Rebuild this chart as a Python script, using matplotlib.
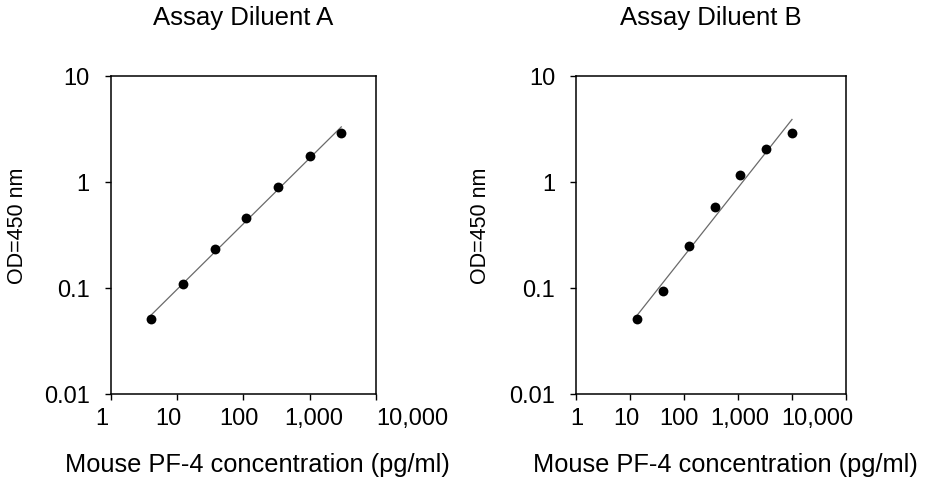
import matplotlib
matplotlib.use("Agg")
import matplotlib.pyplot as plt
import matplotlib.transforms as mtransforms
import numpy as np

plt.rcParams["font.family"] = ["Liberation Sans", "DejaVu Sans"]

# Standard curves, 3-fold dilution series
conc_a = [4.1, 12.3, 37, 111, 333, 1000, 3000]
od_a = [0.051, 0.109, 0.233, 0.46, 0.89, 1.77, 2.92]

conc_b = [13.7, 41, 123, 370, 1111, 3333, 10000]
od_b = [0.051, 0.094, 0.249, 0.58, 1.16, 2.03, 2.92]

titles = ["Assay Diluent A", "Assay Diluent B"]
x_label = "Mouse PF-4 concentration (pg/ml)"
y_label = "OD=450 nm"

y_ticks = [0.01, 0.1, 1, 10]
y_tick_labels = ["0.01", "0.1", "1", "10"]
x_ticks_a = [1, 10, 100, 1000, 10000]
x_ticks_b = [1, 10, 100, 1000, 10000, 100000]
x_tick_labels_a = ["1", "10", "100", "1,000", "10,000"]
x_tick_labels_b = ["1", "10", "100", "1,000", "10,000", ""]

# the source image draws x tick labels a bit off their ticks (pixels)
label_shift_a = [-9, -9, -4, 4, 36]
label_shift_b = [1, -4, -5, 2, 25, 0]

fig = plt.figure(figsize=(9.26, 4.8), dpi=100, facecolor="white")
ax_a = fig.add_axes([0.1195, 0.179, 0.2865, 0.6625])
ax_b = fig.add_axes([0.622, 0.179, 0.2916, 0.6625])


def draw(ax, conc, od, title, xticks, xlabels, shifts, xmax):
    lx, ly = np.log10(conc), np.log10(od)
    k, b = np.polyfit(lx, ly, deg=1)
    fx = np.array([lx.min(), lx.max()])
    ax.plot(10 ** fx, 10 ** (k * fx + b), color="#6a6a6a", lw=0.9, zorder=2)
    ax.scatter(conc, od, s=50, color="black", zorder=3, linewidths=0)

    ax.set_xscale("log")
    ax.set_yscale("log")
    ax.set_xlim(1, xmax)
    ax.set_ylim(0.01, 10)

    ax.set_yticks(y_ticks)
    ax.set_yticklabels(y_tick_labels)
    ax.set_xticks(xticks)
    ax.set_xticklabels(xlabels)
    ax.minorticks_off()
    ax.tick_params(direction="out", length=4, width=1, labelsize=17,
                   colors="black")
    ax.tick_params(axis="y", pad=11)
    ax.tick_params(axis="x", pad=6)

    for spine in ax.spines.values():
        spine.set_linewidth(1.1)
        spine.set_color("black")

    for lab, dx in zip(ax.get_xticklabels(), shifts):
        off = mtransforms.ScaledTranslation(dx / 100, 0, fig.dpi_scale_trans)
        lab.set_transform(lab.get_transform() + off)

    ax.set_title(title, fontsize=18.5, pad=37)
    ax.set_xlabel(x_label, fontsize=18.3)
    ax.set_ylabel(y_label, fontsize=15.5, va="center")
    ax.xaxis.set_label_coords(0.553, -0.185)
    ax.yaxis.set_label_coords(-0.352, 0.53)


draw(ax_a, conc_a, od_a, titles[0], x_ticks_a, x_tick_labels_a, label_shift_a, 1e4)
draw(ax_b, conc_b, od_b, titles[1], x_ticks_b, x_tick_labels_b, label_shift_b, 1e5)

fig.savefig("out.png", dpi=100, facecolor="white")
